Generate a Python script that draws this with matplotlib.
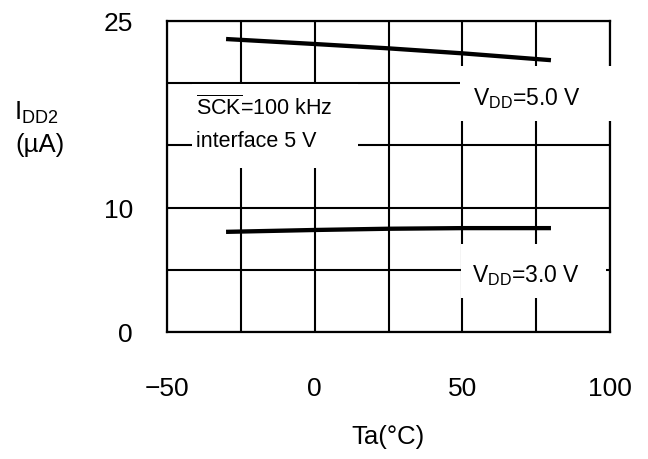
import matplotlib.pyplot as plt
from matplotlib.patches import Rectangle

plt.rcParams['font.family'] = ['Liberation Sans', 'DejaVu Sans']
plt.rcParams['mathtext.fontset'] = 'custom'
plt.rcParams['mathtext.rm'] = 'Liberation Sans'
plt.rcParams['mathtext.it'] = 'Liberation Sans:italic'

# data
temp = [-30, 0, 25, 50, 80]
idd_5v = [23.55, 23.15, 22.8, 22.4, 21.85]
idd_3v = [8.05, 8.2, 8.3, 8.35, 8.35]

x_ticks = [-50, 0, 50, 100]
x_grid = [-25, 25, 75]
y_ticks = [0, 10, 25]
y_grid = [5, 15, 20]

fig = plt.figure(figsize=(6.48, 4.60), dpi=100)
ax = fig.add_axes([0.2577, 0.2761, 0.6837, 0.6761])

ax.plot(temp, idd_5v, color='black', lw=3.1, solid_capstyle='butt', zorder=2)
ax.plot(temp, idd_3v, color='black', lw=3.1, solid_capstyle='butt', zorder=2)

ax.set_xlim(-50, 100)
ax.set_ylim(0, 25)
ax.set_xticks(x_ticks)
ax.set_xticks(x_grid, minor=True)
ax.set_yticks(y_ticks)
ax.set_yticks(y_grid, minor=True)
ax.set_xticklabels(['\u221250', '0', '50', '100'])
ax.tick_params(which='both', length=0)
ax.tick_params(axis='x', pad=32, labelsize=19)
ax.tick_params(axis='y', pad=24.5, labelsize=19)
ax.grid(True, which='both', color='black', lw=1.5)
for s in ax.spines.values():
    s.set_linewidth(1.6)

# white masks behind the labels
masks = [(-41.5, 13.2, 56.1, 6.75),
         (49.3, 17.0, 53.0, 4.4),
         (49.7, 2.75, 49.0, 4.3)]
for mx, my, mw, mh in masks:
    ax.add_patch(Rectangle((mx, my), mw, mh, facecolor='white',
                           edgecolor='none', zorder=3, clip_on=False))

ax.text(-40.1, 17.5, r'$\overline{\mathrm{SCK}}$=100 kHz', fontsize=15.5,
        va='baseline', ha='left', zorder=4)
ax.text(-40.1, 14.95, 'interface 5 V', fontsize=15.5,
        va='baseline', ha='left', zorder=4)
ax.text(53.7, 18.3, r'V$_{\mathrm{DD}}$=5.0 V', fontsize=16.5,
        va='baseline', ha='left', zorder=4)
ax.text(53.4, 4.1, r'V$_{\mathrm{DD}}$=3.0 V', fontsize=16.5,
        va='baseline', ha='left', zorder=4)

fig.text(14 / 648, 1 - 120 / 460, r'I$_{\mathrm{DD2}}$', fontsize=18.5,
         ha='left', va='baseline')
fig.text(15 / 648, 1 - 145 / 460, '(\u00b5A)', fontsize=18.5,
         ha='left', va='center')
fig.text(388 / 648, 1 - 437 / 460, 'Ta(\u00b0C)', fontsize=18.5,
         ha='center', va='center')

fig.savefig('out.png', dpi=100)
